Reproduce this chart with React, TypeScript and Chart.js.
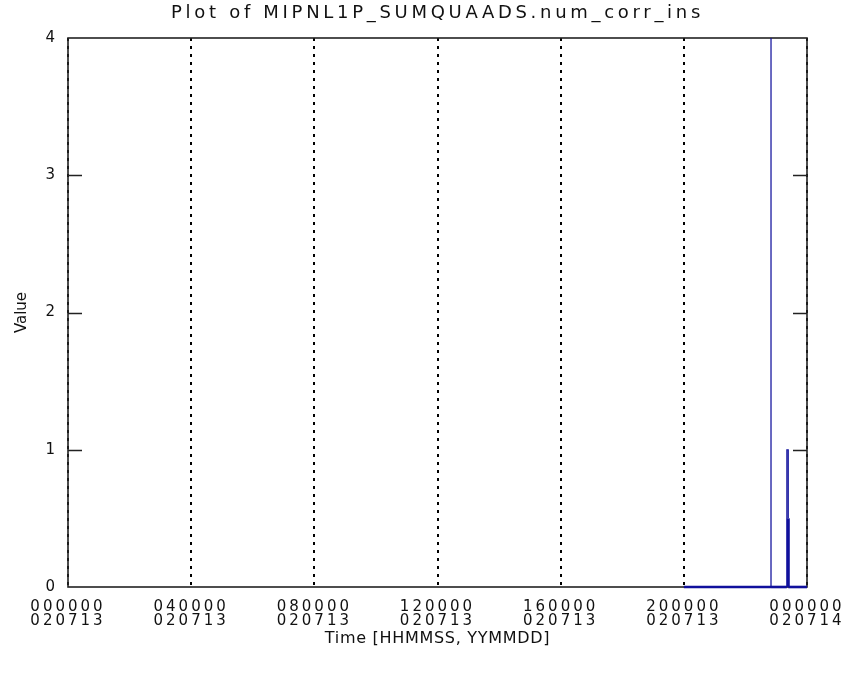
import React, { useEffect, useRef } from 'react';
import { Chart, registerables } from 'chart.js';

Chart.register(...registerables);

const chartTitle = 'Plot of MIPNL1P_SUMQUAADS.num_corr_ins';
const xAxisTitle = 'Time [HHMMSS, YYMMDD]';
const yAxisTitle = 'Value';

const xTickHours = [0, 4, 8, 12, 16, 20, 24];
const xTickTimes = ['000000', '040000', '080000', '120000', '160000', '200000', '000000'];
const xTickDates = ['020713', '020713', '020713', '020713', '020713', '020713', '020714'];
const yTickValues = [0, 1, 2, 3, 4];

const sampleHours = [20.0, 22.83, 22.831, 22.832, 23.345, 23.346, 23.39, 23.391, 23.392, 24.0];
const sampleValues = [0, 0, 4, 0, 0, 1, 1, 0.5, 0, 0];

const FONT = "'DejaVu Sans', sans-serif";
const INK = '#111111';
const LINE = '#10109c';

function withSpacing(obj: any, key: string, px: string) {
  if (!obj || obj['__sp_' + key]) return;
  const orig = obj[key];
  if (typeof orig !== 'function') return;
  obj['__sp_' + key] = true;
  obj[key] = function (this: any, ...args: any[]) {
    const ctx = this.ctx;
    const prev = ctx.letterSpacing;
    ctx.letterSpacing = px;
    try {
      return orig.apply(this, args);
    } finally {
      ctx.letterSpacing = prev;
    }
  };
}

const spacingPlugin = {
  id: 'spacingPlugin',
  afterUpdate(chart: any) {
    const x = chart.scales.x;
    const y = chart.scales.y;
    withSpacing(x, 'drawLabels', '3px');
    withSpacing(y, 'drawLabels', '3px');
    withSpacing(x, 'drawTitle', '0.7px');
    withSpacing(chart.titleBlock, 'draw', '3.7px');
  },
};

const framePlugin = {
  id: 'framePlugin',
  beforeDatasetsDraw(chart: any) {
    const { ctx, chartArea } = chart;
    const { left, right, top, bottom } = chartArea;
    const y = chart.scales.y;
    ctx.save();
    ctx.strokeStyle = '#222222';
    ctx.lineWidth = 1.6;
    ctx.setLineDash([]);
    ctx.strokeRect(left, top, right - left, bottom - top);
    const tickLen = 14;
    yTickValues.forEach((v) => {
      if (v <= y.min || v >= y.max) return;
      const py = Math.round(y.getPixelForValue(v)) + 0.5;
      ctx.beginPath();
      ctx.moveTo(left, py);
      ctx.lineTo(left + tickLen, py);
      ctx.moveTo(right, py);
      ctx.lineTo(right - tickLen, py);
      ctx.stroke();
    });
    ctx.restore();
  },
};

export default function App() {
  const canvasRef = useRef<HTMLCanvasElement | null>(null);

  useEffect(() => {
    if (!canvasRef.current) return;
    const data = sampleHours.map((h, i) => ({ x: h, y: sampleValues[i] }));
    const chart = new Chart(canvasRef.current, {
      type: 'line',
      data: {
        datasets: [
          {
            data,
            borderColor: LINE,
            borderWidth: 1.2,
            pointRadius: 0,
            tension: 0,
            fill: false,
            clip: false,
            segment: {
              borderWidth: (c: any) => {
                const a = c.p0.parsed.y;
                const b = c.p1.parsed.y;
                if (a === 0 && b === 0) return 2.6;
                if (a === 0.5) return 3;
                return 1.2;
              },
            },
          },
        ],
      },
      options: {
        animation: false,
        responsive: true,
        maintainAspectRatio: false,
        layout: { padding: { left: 0, right: 50, top: 0, bottom: 0 } },
        plugins: {
          legend: { display: false },
          tooltip: { enabled: false },
          title: {
            display: true,
            text: chartTitle,
            fullSize: false,
            color: INK,
            font: { family: FONT, size: 18, weight: 'normal', lineHeight: 1.2 },
            padding: { top: 3, bottom: 13.4 },
          },
        },
        scales: {
          x: {
            type: 'linear',
            min: 0,
            max: 24,
            afterFit: (s: any) => {
              s.height = 88;
            },
            afterBuildTicks: (s: any) => {
              s.ticks = xTickHours.map((v) => ({ value: v }));
            },
            grid: {
              display: true,
              drawOnChartArea: true,
              drawTicks: false,
              color: '#000000',
              lineWidth: 2,
            },
            border: { display: false, dash: [3, 5] },
            ticks: {
              autoSkip: false,
              maxRotation: 0,
              minRotation: 0,
              padding: 13,
              color: INK,
              font: { family: FONT, size: 15, lineHeight: '14px' },
              callback: (value: any) => {
                const i = xTickHours.indexOf(Number(value));
                return i >= 0 ? [xTickTimes[i], xTickDates[i]] : '';
              },
            },
            title: {
              display: true,
              text: xAxisTitle,
              color: INK,
              font: { family: FONT, size: 16, lineHeight: 1.2 },
              padding: { top: 0, bottom: 26.4 },
            },
          },
          y: {
            type: 'linear',
            min: 0,
            max: 4,
            afterFit: (s: any) => {
              s.width = 68;
            },
            afterBuildTicks: (s: any) => {
              s.ticks = yTickValues.map((v) => ({ value: v }));
            },
            grid: { display: false, drawTicks: false },
            border: { display: false },
            ticks: {
              padding: 10,
              color: INK,
              font: { family: FONT, size: 15 },
              callback: (value: any) => String(value),
            },
            title: {
              display: true,
              text: yAxisTitle,
              color: INK,
              font: { family: FONT, size: 15, lineHeight: 1.2 },
              padding: { top: 13, bottom: 0 },
            },
          },
        },
      },
      plugins: [spacingPlugin, framePlugin],
    } as any);
    return () => chart.destroy();
  }, []);

  return (
    <div
      style={{
        position: 'fixed',
        left: 0,
        top: 0,
        width: 857,
        height: 675,
        background: '#ffffff',
      }}
    >
      <canvas ref={canvasRef} />
    </div>
  );
}
